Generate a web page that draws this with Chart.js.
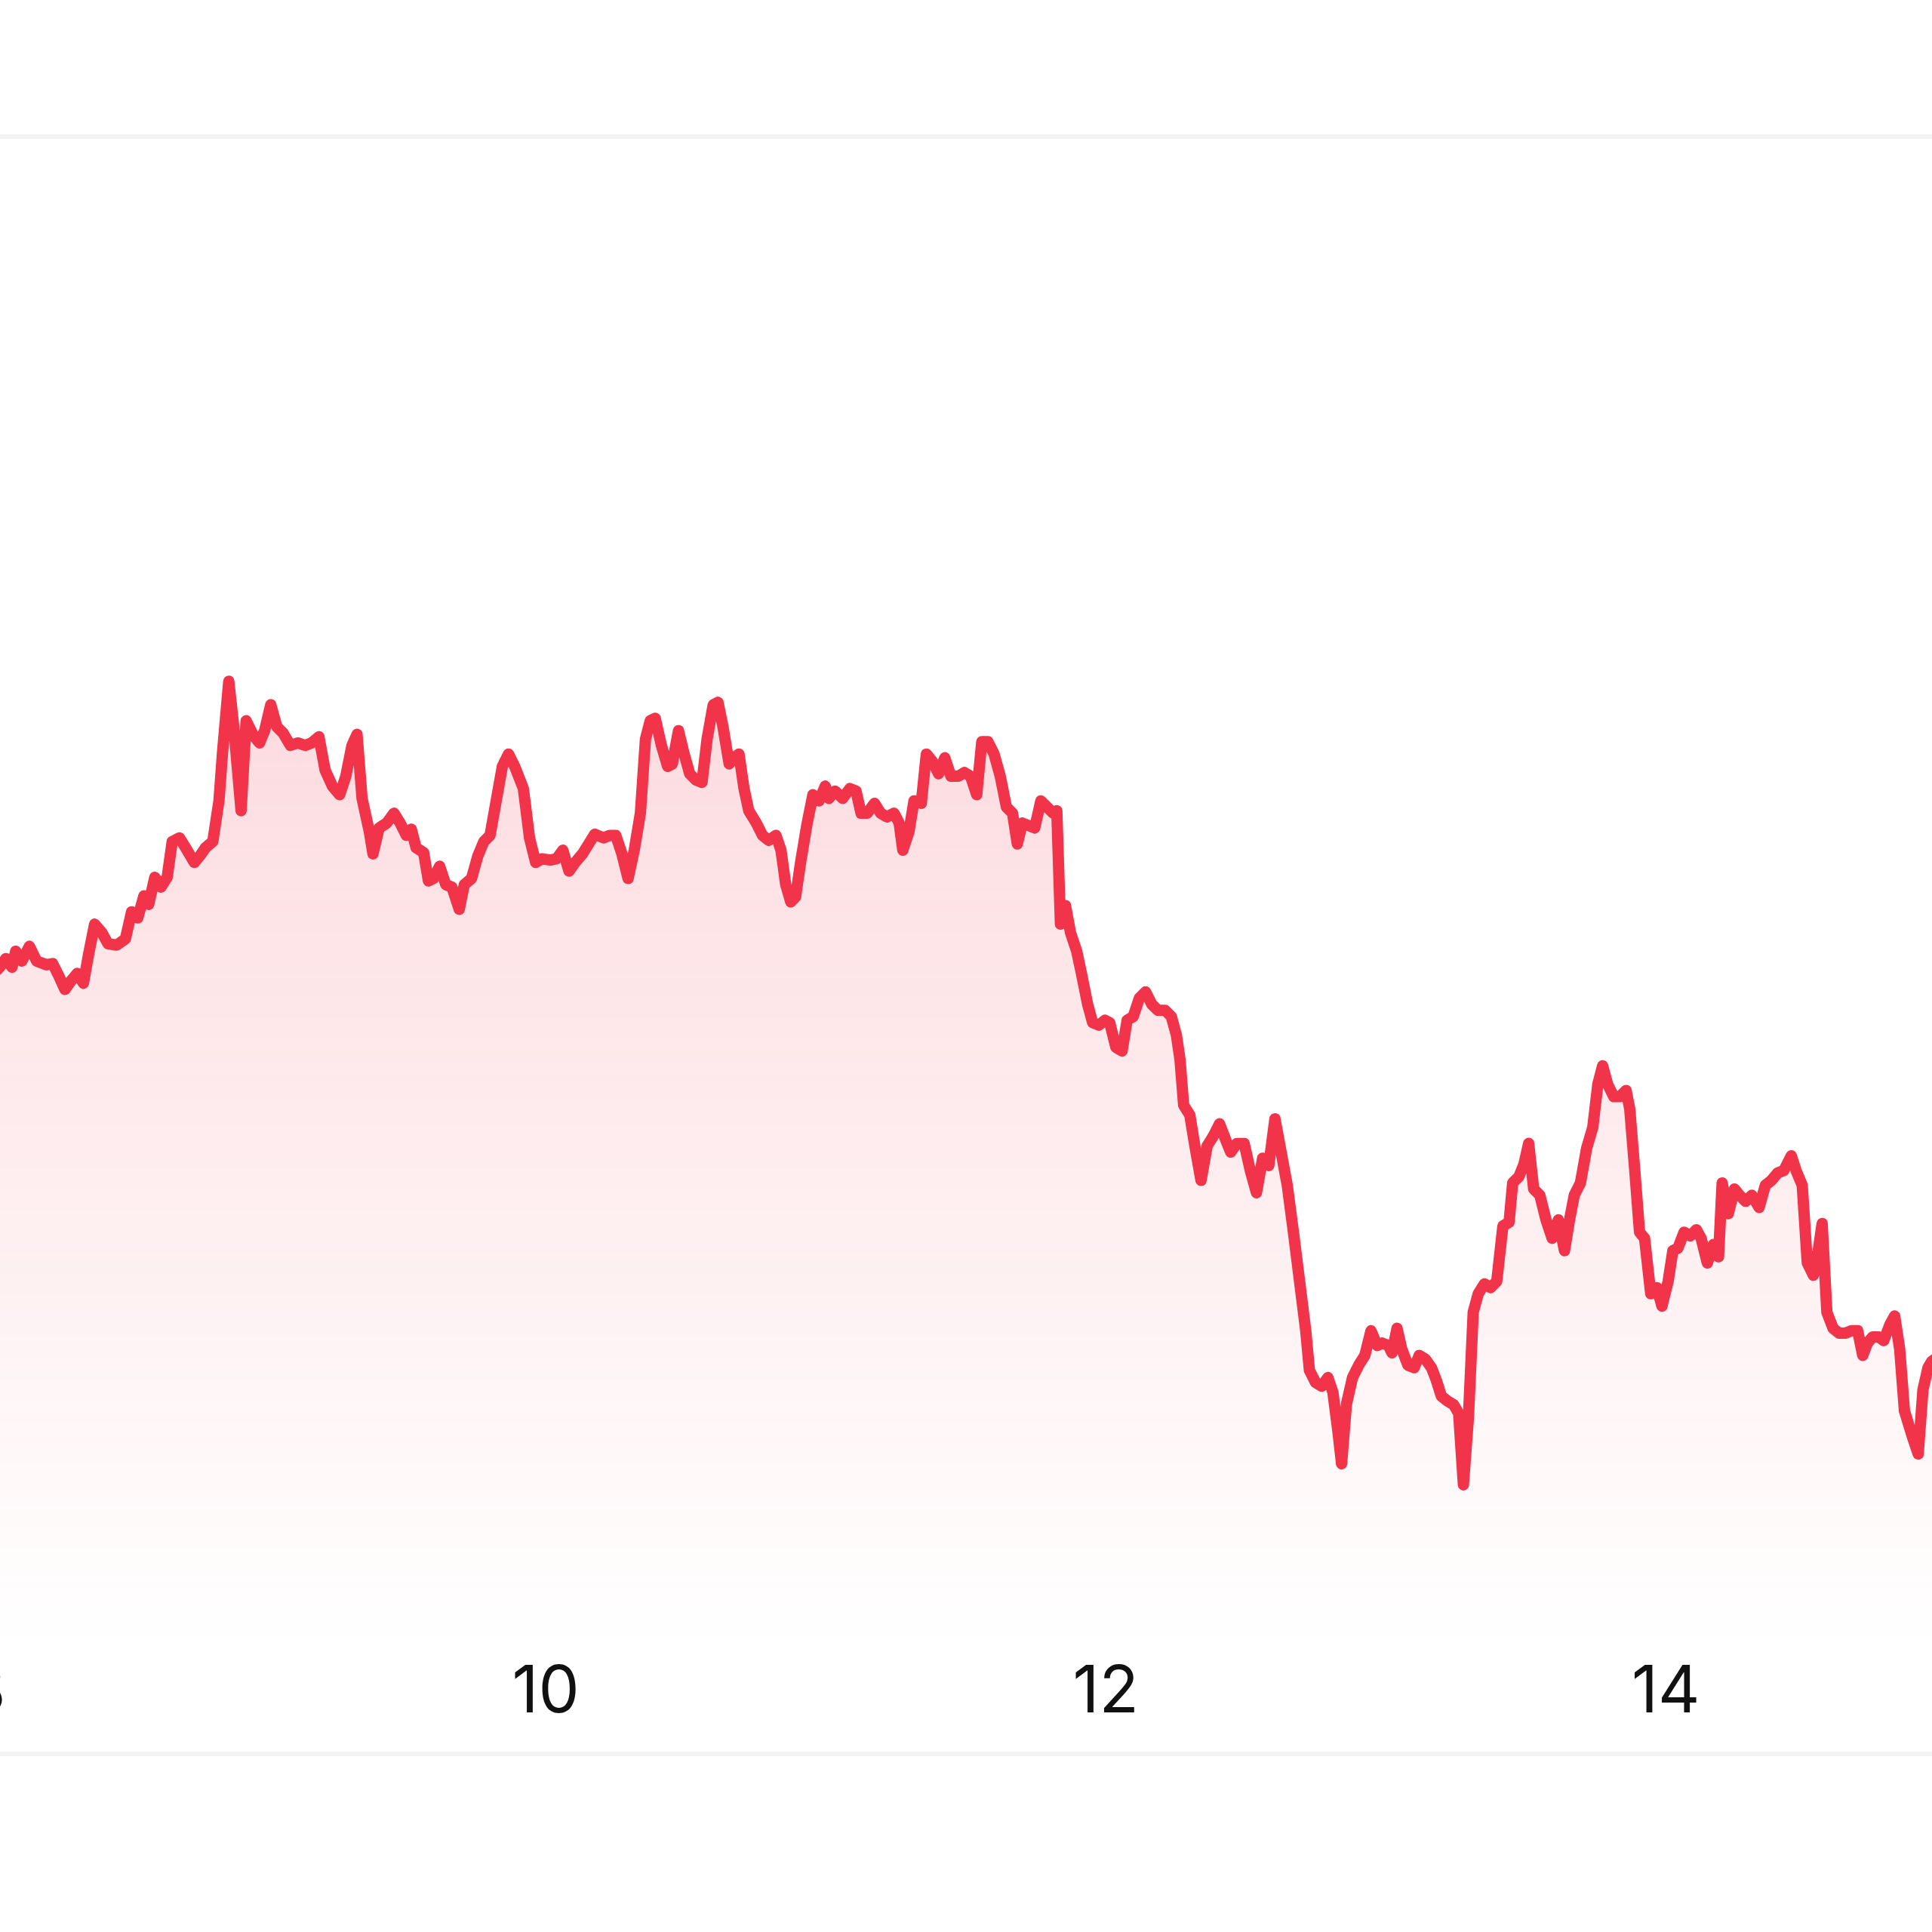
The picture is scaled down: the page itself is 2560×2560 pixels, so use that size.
<!DOCTYPE html>
<html>
<head>
<meta charset="utf-8">
<title>Intraday price</title>
<script src="https://cdn.jsdelivr.net/npm/chart.js@4.4.1/dist/chart.umd.min.js"></script>
<style>
  html, body { margin: 0; padding: 0; background: #ffffff; }
  body { width: 2560px; height: 2560px; overflow: hidden; position: relative; }
  .rule { position: absolute; left: 0; width: 2560px; height: 6px; background: #f3f3f3; }
  #priceChart { position: absolute; left: -390px; top: 180px; }
</style>
</head>
<body>
<div class="rule" style="top:178px"></div>
<div class="rule" style="top:2321px"></div>
<canvas id="priceChart" width="3525" height="2142"></canvas>

<script>
// Time of day (hours) for each price sample
const hours = [
  8.028, 8.050, 8.072, 8.094, 8.107, 8.129, 8.156, 8.182, 8.217, 8.239, 8.261, 8.283, 8.305, 8.327, 8.349,
  8.367, 8.389, 8.415, 8.437, 8.468, 8.499, 8.521, 8.543, 8.565, 8.582, 8.604, 8.626, 8.648, 8.666, 8.692,
  8.719, 8.745, 8.767, 8.785, 8.811, 8.833, 8.846, 8.868, 8.886, 8.912, 8.930, 8.956, 8.978, 8.996, 9.018,
  9.040, 9.062, 9.088, 9.115, 9.141, 9.163, 9.190, 9.212, 9.238, 9.264, 9.286, 9.308, 9.326, 9.344, 9.370,
  9.383, 9.405, 9.432, 9.458, 9.480, 9.502, 9.520, 9.537, 9.564, 9.581, 9.599, 9.621, 9.643, 9.665, 9.691,
  9.709, 9.735, 9.757, 9.779, 9.801, 9.823, 9.845, 9.867, 9.889, 9.920, 9.942, 9.964, 9.986, 10.017, 10.039,
  10.061, 10.083, 10.105, 10.131, 10.153, 10.175, 10.206, 10.228, 10.250, 10.272, 10.294, 10.316, 10.338, 10.356, 10.373,
  10.391, 10.413, 10.435, 10.452, 10.474, 10.492, 10.514, 10.536, 10.558, 10.576, 10.598, 10.615, 10.633, 10.655, 10.672,
  10.690, 10.708, 10.725, 10.752, 10.774, 10.796, 10.822, 10.840, 10.857, 10.875, 10.892, 10.910, 10.932, 10.954, 10.976,
  10.998, 11.011, 11.033, 11.060, 11.086, 11.108, 11.126, 11.148, 11.174, 11.196, 11.218, 11.244, 11.262, 11.275, 11.297,
  11.315, 11.341, 11.359, 11.381, 11.403, 11.425, 11.447, 11.473, 11.495, 11.517, 11.539, 11.557, 11.579, 11.601, 11.623,
  11.645, 11.667, 11.684, 11.702, 11.724, 11.746, 11.768, 11.790, 11.812, 11.825, 11.838, 11.856, 11.874, 11.896, 11.913,
  11.935, 11.953, 11.975, 11.997, 12.014, 12.036, 12.058, 12.076, 12.098, 12.120, 12.142, 12.164, 12.186, 12.212, 12.234,
  12.252, 12.265, 12.278, 12.300, 12.318, 12.340, 12.362, 12.384, 12.406, 12.428, 12.446, 12.468, 12.494, 12.516, 12.538,
  12.560, 12.582, 12.604, 12.626, 12.648, 12.670, 12.692, 12.714, 12.727, 12.749, 12.771, 12.793, 12.811, 12.828, 12.842,
  12.859, 12.881, 12.903, 12.925, 12.947, 12.969, 12.987, 13.009, 13.022, 13.040, 13.057, 13.079, 13.101, 13.119, 13.141,
  13.163, 13.180, 13.198, 13.220, 13.242, 13.260, 13.277, 13.295, 13.312, 13.330, 13.352, 13.374, 13.396, 13.418, 13.440,
  13.453, 13.475, 13.493, 13.510, 13.528, 13.550, 13.572, 13.594, 13.616, 13.638, 13.656, 13.673, 13.695, 13.717, 13.739,
  13.757, 13.774, 13.792, 13.814, 13.836, 13.858, 13.871, 13.889, 13.906, 13.924, 13.946, 13.968, 13.986, 14.008, 14.025,
  14.043, 14.065, 14.087, 14.109, 14.126, 14.148, 14.170, 14.188, 14.201, 14.223, 14.245, 14.263, 14.285, 14.307, 14.333,
  14.355, 14.377, 14.399, 14.421, 14.448, 14.465, 14.487, 14.505, 14.527, 14.544, 14.558, 14.575, 14.597, 14.619, 14.641,
  14.663, 14.685, 14.703, 14.720, 14.738, 14.760, 14.778, 14.800, 14.817, 14.835, 14.852, 14.879, 14.901, 14.918, 14.936,
  14.949, 14.980
];

// Price at each sample
const prices = [
  61.0, 61.5, 62.2, 61.5, 62.8, 62.0, 63.2, 62.0, 61.7, 61.8, 60.8, 59.7, 60.4, 61.0, 60.2,
  62.5, 65.0, 64.3, 63.4, 63.3, 63.8, 66.0, 65.5, 67.3, 66.6, 68.8, 68.0, 68.8, 71.7, 72.0,
  71.0, 70.0, 70.6, 71.2, 71.7, 75.0, 79.0, 84.7, 81.0, 74.2, 81.5, 80.3, 79.7, 80.7, 82.8,
  81.0, 80.5, 79.5, 79.7, 79.5, 79.7, 80.2, 77.5, 76.2, 75.5, 77.0, 79.5, 80.4, 75.2, 72.5,
  70.7, 72.8, 73.2, 74.0, 73.2, 72.2, 72.7, 71.2, 70.8, 68.5, 68.7, 69.7, 68.2, 68.0, 66.2,
  68.2, 68.7, 70.5, 71.7, 72.2, 75.0, 77.8, 78.8, 77.8, 76.0, 72.0, 70.0, 70.3, 70.2, 70.3,
  71.0, 69.3, 70.0, 70.7, 71.5, 72.3, 72.0, 72.2, 72.2, 70.7, 68.7, 71.0, 74.0, 80.0, 81.5,
  81.7, 79.5, 77.8, 78.0, 80.7, 79.0, 77.2, 76.7, 76.5, 80.0, 82.8, 83.0, 81.0, 78.0, 78.5,
  78.8, 76.0, 74.2, 73.2, 72.2, 71.8, 72.2, 71.0, 68.2, 66.8, 67.2, 70.0, 73.0, 75.5, 75.0,
  76.2, 75.2, 75.8, 75.2, 76.0, 75.8, 74.0, 74.0, 74.8, 74.0, 73.7, 74.0, 73.2, 71.0, 72.5,
  75.0, 74.8, 78.8, 78.2, 77.2, 78.5, 77.0, 77.0, 77.3, 77.0, 75.5, 79.8, 79.8, 78.8, 77.0,
  74.5, 74.0, 71.5, 73.2, 73.0, 72.8, 75.0, 74.5, 74.0, 74.2, 65.0, 66.5, 64.3, 62.8, 61.0,
  58.5, 57.0, 56.8, 57.2, 57.0, 55.0, 54.7, 57.2, 57.5, 59.0, 59.5, 58.5, 58.0, 58.0, 57.5,
  56.0, 54.0, 50.3, 49.5, 47.0, 44.2, 47.0, 47.8, 48.8, 47.5, 46.5, 47.2, 47.2, 45.0, 43.2,
  46.0, 45.4, 49.2, 46.5, 43.8, 40.0, 36.0, 32.0, 28.8, 27.8, 27.5, 28.2, 27.0, 24.0, 21.2,
  26.0, 28.2, 29.2, 30.0, 32.0, 30.8, 31.0, 30.8, 30.2, 32.2, 30.5, 29.2, 29.0, 30.0, 29.7,
  29.0, 28.0, 26.7, 26.3, 26.0, 25.3, 19.5, 25.0, 33.5, 35.0, 35.8, 35.5, 36.0, 40.5, 40.8,
  44.0, 44.5, 45.5, 47.2, 43.5, 43.0, 41.0, 39.5, 41.0, 38.5, 41.0, 43.0, 44.0, 46.8, 48.5,
  52.0, 53.5, 52.0, 51.0, 51.0, 51.5, 50.0, 45.0, 40.0, 39.5, 35.0, 35.5, 34.0, 36.0, 38.5,
  38.7, 40.0, 39.7, 40.2, 39.5, 37.5, 39.0, 38.0, 44.0, 41.5, 43.5, 43.0, 42.5, 43.0, 42.0,
  43.8, 44.2, 44.8, 45.0, 46.2, 45.0, 43.8, 37.5, 36.5, 38.5, 40.7, 33.5, 32.2, 31.8, 31.8,
  32.0, 32.0, 30.0, 31.0, 31.5, 31.5, 31.2, 32.5, 33.2, 30.5, 25.5, 23.5, 22.0, 27.2, 29.0,
  29.5, 30.0
];

// Axis ranges and tick spacing
const xMin = 7;
const xMax = 16.5;
const xStep = 2;
const yMin = 6.48;
const yMax = 128.97;

const lineColor = '#f2344a';

function fillGradient(context) {
    const chart = context.chart;
    const area = chart.chartArea;
    if (!area) {
        return 'rgba(242, 52, 74, 0.1)';
    }
    const g = chart.ctx.createLinearGradient(0, area.top, 0, area.bottom);
    g.addColorStop(0, 'rgba(242, 52, 74, 0.28)');
    g.addColorStop(1, 'rgba(242, 52, 74, 0.0)');
    return g;
}

const points = hours.map((h, i) => ({ x: h, y: prices[i] }));

const ctx = document.getElementById('priceChart').getContext('2d');
new Chart(ctx, {
    type: 'line',
    data: {
        datasets: [{
            label: 'Price',
            data: points,
            borderColor: lineColor,
            borderWidth: 15,
            borderJoinStyle: 'round',
            borderCapStyle: 'round',
            backgroundColor: fillGradient,
            fill: 'start',
            tension: 0,
            pointRadius: 0
        }]
    },
    options: {
        responsive: false,
        animation: false,
        layout: { padding: 0 },
        plugins: {
            legend: { display: false },
            tooltip: { enabled: false }
        },
        scales: {
            x: {
                type: 'linear',
                min: xMin,
                max: xMax,
                border: { display: false },
                grid: { display: false, drawTicks: false },
                ticks: {
                    stepSize: xStep,
                    includeBounds: false,
                    padding: 12,
                    color: '#111111',
                    font: { family: 'Inter', size: 86, weight: '400' }
                },
                afterFit: function(scale) {
                    scale.height = 142;
                }
            },
            y: {
                display: false,
                min: yMin,
                max: yMax
            }
        }
    }
});
</script>
</body>
</html>
